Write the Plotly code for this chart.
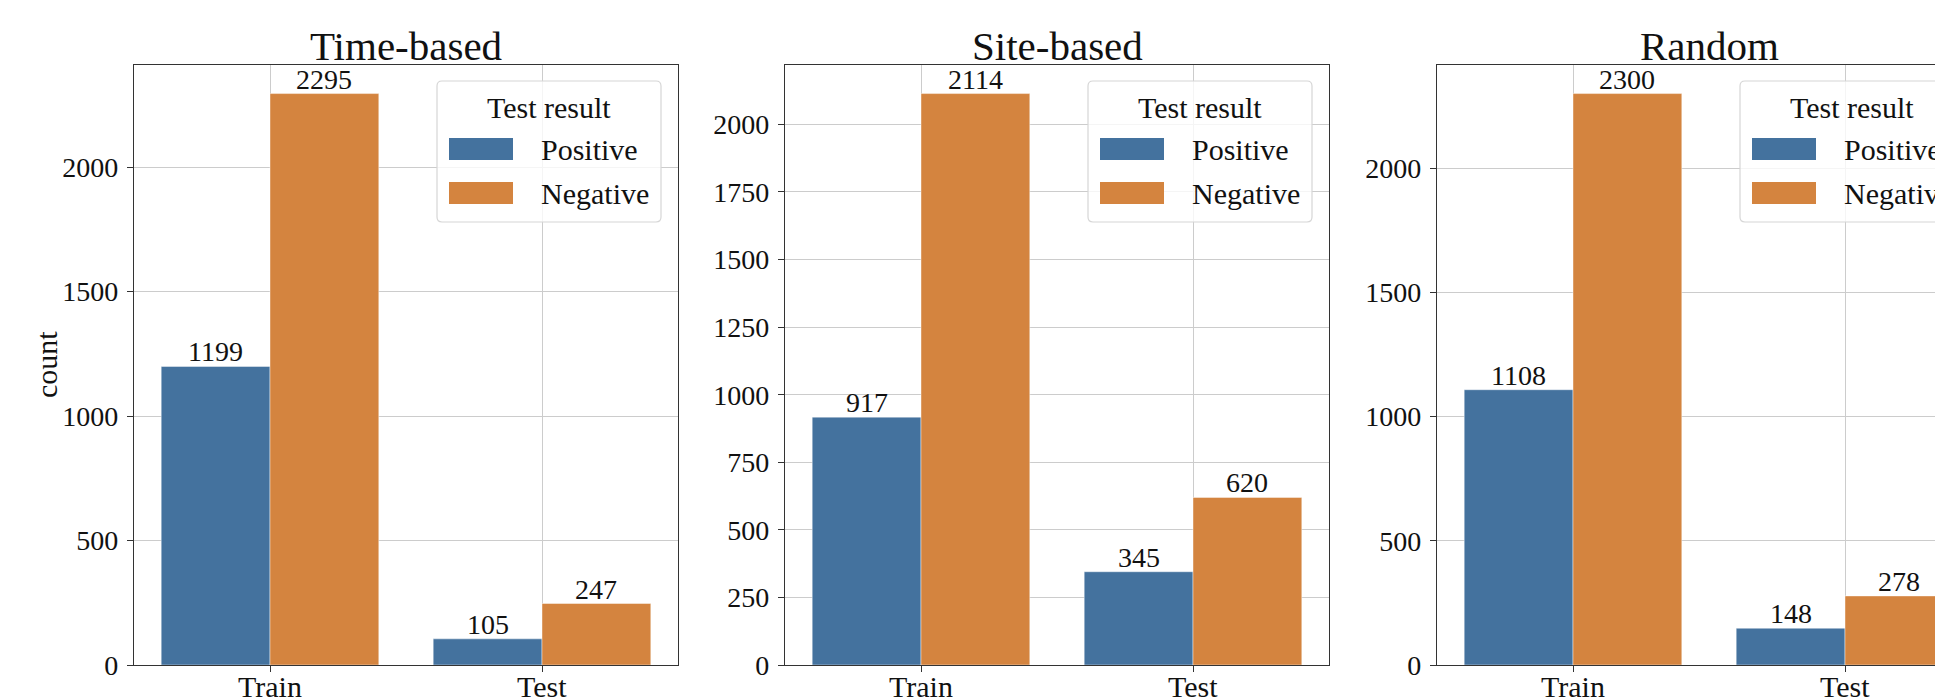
import plotly.graph_objects as go

# Figure size in pixels
W, H = 1935, 698

# ---- data ----
phases = ["Train", "Test"]
panel_titles = ["Time-based", "Site-based", "Random"]
series_names = ["Positive", "Negative"]
legend_title = "Test result"
y_label = "count"

time_positive = [1199, 105]
time_negative = [2295, 247]
site_positive = [917, 345]
site_negative = [2114, 620]
random_positive = [1108, 148]
random_negative = [2300, 278]

y_tick_steps = [500, 250, 500]

# ---- style ----
BLUE = "#44729e"
ORANGE = "#d4843f"
TEXT = "#111111"
SPINE = "#333333"
GRID = "#cccccc"
FONT = "Liberation Serif"

# panel geometry (pixels)
panel_left = [134, 785, 1437]
panel_width = 544
panel_top, panel_bottom = 65, 665


def fx(px):
    return px / W


def fy(py):
    return 1 - py / H


panels = [
    (time_positive, time_negative),
    (site_positive, site_negative),
    (random_positive, random_negative),
]

fig = go.Figure()
annotations = []
shapes = []

for i, (pos, neg) in enumerate(panels):
    n = i + 1
    xa, ya = f"x{n}", f"y{n}"
    xkey = "xaxis" if n == 1 else f"xaxis{n}"
    ykey = "yaxis" if n == 1 else f"yaxis{n}"
    left = panel_left[i]
    visible = min(panel_width, W - left)
    ymax = max(pos + neg) * 1.05

    for vals, name, color in ((pos, series_names[0], BLUE), (neg, series_names[1], ORANGE)):
        fig.add_trace(go.Bar(
            x=phases, y=vals, name=name, xaxis=xa, yaxis=ya,
            marker=dict(color=color, line=dict(color="rgba(255,255,255,0.55)", width=0.8)),
            showlegend=False, offsetgroup=name,
        ))

    # value labels above the bars
    for vals, dx in ((pos, -0.2), (neg, 0.2)):
        for k, v in enumerate(vals):
            annotations.append(dict(
                x=k + dx, y=v, xref=xa, yref=ya, text=str(v), showarrow=False,
                xanchor="center", yanchor="bottom", yshift=-3,
                font=dict(family=FONT, size=28, color=TEXT),
            ))

    # category labels under the x axis
    for k, ph in enumerate(phases):
        annotations.append(dict(
            x=k, y=fy(668), xref=xa, yref="paper", text=ph, showarrow=False,
            xanchor="center", yanchor="top",
            font=dict(family=FONT, size=30, color=TEXT),
        ))

    fig.update_layout({
        xkey: dict(
            domain=[fx(left), min(fx(left + panel_width), 1.0)],
            anchor=ya, type="category",
            range=[-0.5, -0.5 + 2 * visible / panel_width],
            showline=True, linecolor=SPINE, linewidth=1.3, mirror=True,
            ticks="outside", ticklen=6, tickcolor=SPINE, tickwidth=1.2,
            showticklabels=False,
            showgrid=True, gridcolor=GRID, gridwidth=1,
            zeroline=False, fixedrange=True, automargin=False,
        ),
        ykey: dict(
            domain=[fy(panel_bottom), fy(panel_top)],
            anchor=xa, range=[0, ymax],
            tickmode="linear", tick0=0, dtick=y_tick_steps[i],
            showline=True, linecolor=SPINE, linewidth=1.3,
            mirror=(i < 2),
            ticks="outside", ticklen=6, tickcolor=SPINE, tickwidth=1.2,
            showgrid=True, gridcolor=GRID, gridwidth=1,
            tickfont=dict(family=FONT, size=28, color=TEXT),
            ticklabelstandoff=3,
            zeroline=False, fixedrange=True, automargin=False,
        ),
    })

    # panel title
    annotations.append(dict(
        x=fx(left + panel_width / 2), y=fy(panel_top), xref="paper", yref="paper",
        text=panel_titles[i], showarrow=False, xanchor="center", yanchor="bottom",
        yshift=-6, font=dict(family=FONT, size=41, color=TEXT),
    ))

    # legend box with rounded corners
    bx0, bx1 = left + 303, left + 527
    by0, by1 = 81, 222
    r = 5
    path = (
        f"M {fx(bx0 + r)},{fy(by0)} L {fx(bx1 - r)},{fy(by0)} "
        f"Q {fx(bx1)},{fy(by0)} {fx(bx1)},{fy(by0 + r)} "
        f"L {fx(bx1)},{fy(by1 - r)} Q {fx(bx1)},{fy(by1)} {fx(bx1 - r)},{fy(by1)} "
        f"L {fx(bx0 + r)},{fy(by1)} Q {fx(bx0)},{fy(by1)} {fx(bx0)},{fy(by1 - r)} "
        f"L {fx(bx0)},{fy(by0 + r)} Q {fx(bx0)},{fy(by0)} {fx(bx0 + r)},{fy(by0)} Z"
    )
    shapes.append(dict(type="path", path=path, xref="paper", yref="paper",
                       fillcolor="rgba(255,255,255,0.8)",
                       line=dict(color="#d6d6d6", width=1.2), layer="above"))

    annotations.append(dict(
        x=fx((bx0 + bx1) / 2), y=fy(107), xref="paper", yref="paper",
        text=legend_title, showarrow=False, xanchor="center", yanchor="middle",
        font=dict(family=FONT, size=30, color=TEXT),
    ))
    for name, color, cy in ((series_names[0], BLUE, 149), (series_names[1], ORANGE, 193)):
        shapes.append(dict(type="rect", xref="paper", yref="paper",
                           x0=fx(left + 315), x1=fx(left + 379),
                           y0=fy(cy - 11), y1=fy(cy + 11),
                           fillcolor=color, line=dict(width=0), layer="above"))
        annotations.append(dict(
            x=fx(left + 405), y=fy(cy), xref="paper", yref="paper",
            text=name, showarrow=False, xanchor="left", yanchor="middle",
            font=dict(family=FONT, size=30, color=TEXT),
        ))

# y-axis label of the first panel
annotations.append(dict(
    x=fx(47), y=fy((panel_top + panel_bottom) / 2), xref="paper", yref="paper",
    text=y_label, showarrow=False, textangle=-90,
    xanchor="center", yanchor="middle",
    font=dict(family=FONT, size=30, color=TEXT),
))

fig.update_layout(
    width=W, height=H,
    margin=dict(l=0, r=0, t=0, b=0, autoexpand=False),
    paper_bgcolor="white", plot_bgcolor="white",
    barmode="group", bargap=0.2, bargroupgap=0,
    annotations=annotations, shapes=shapes,
    showlegend=False,
    font=dict(family=FONT, color=TEXT),
)

fig.write_html("out.html")
